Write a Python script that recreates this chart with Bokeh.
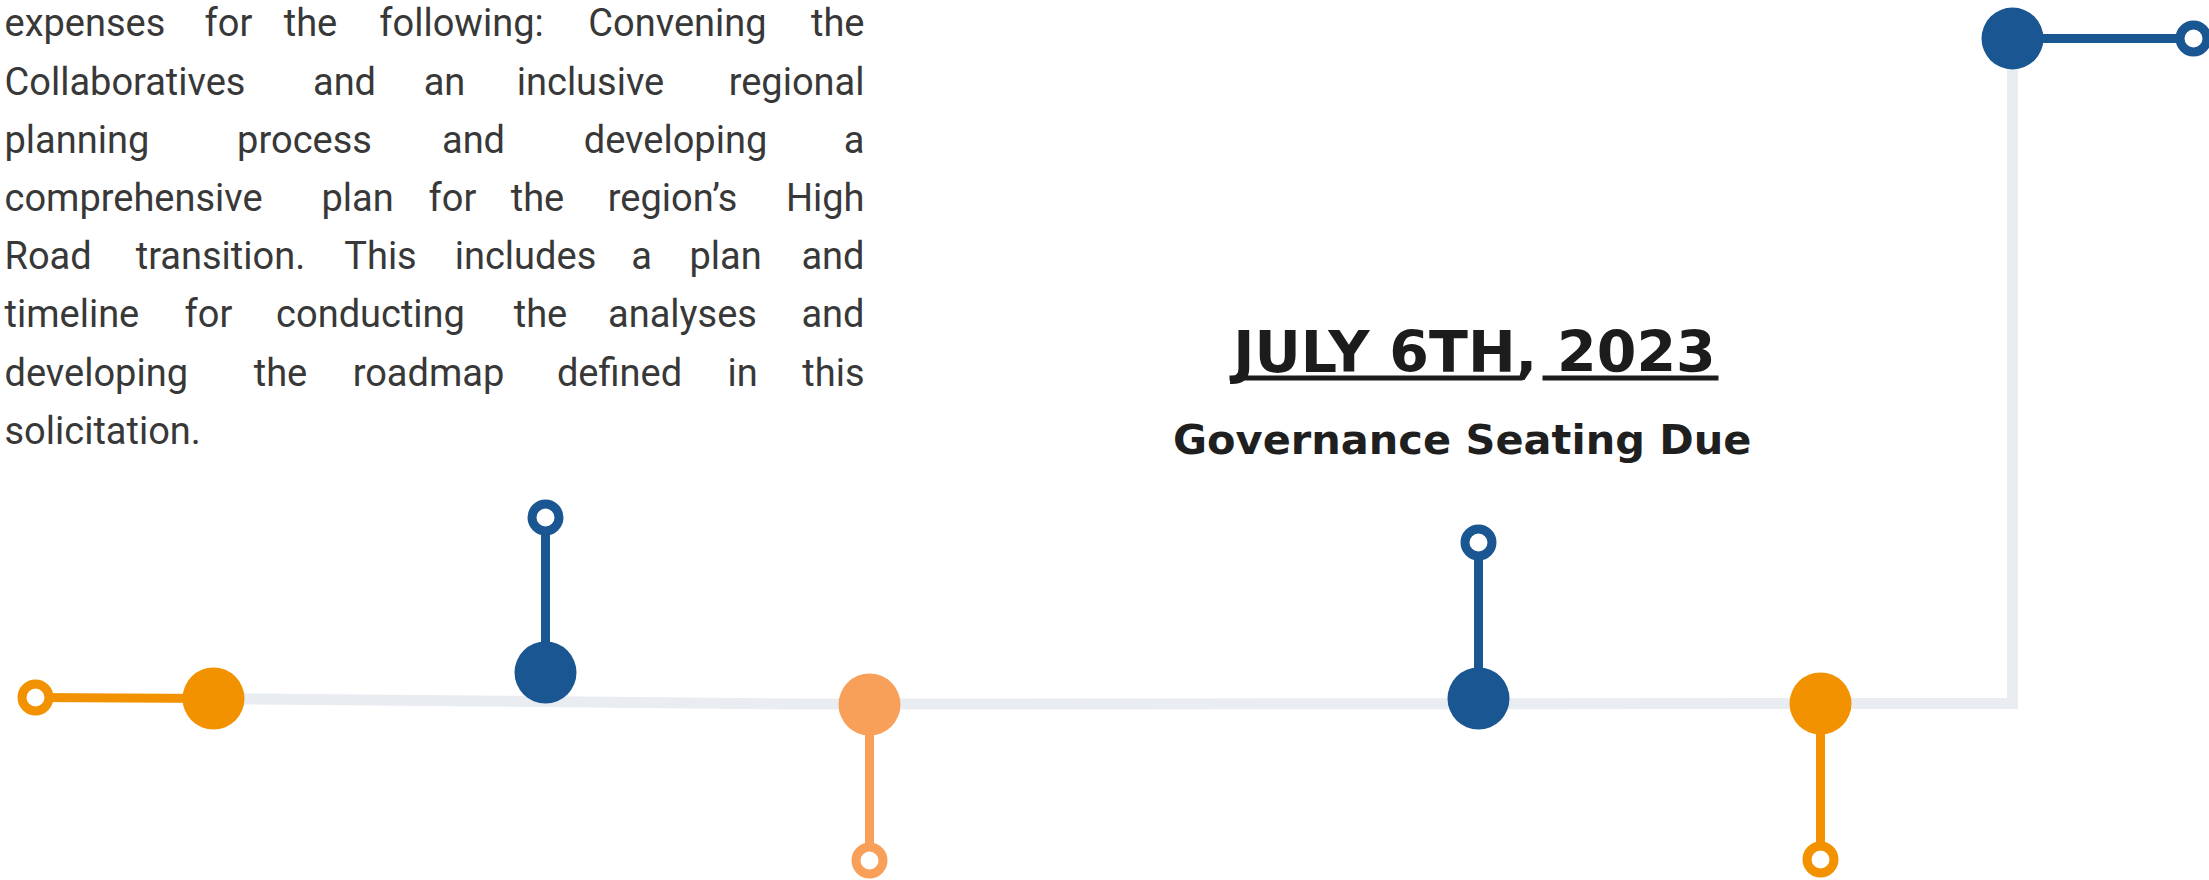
from bokeh.plotting import figure
from bokeh.models import Range1d, ColumnDataSource
from bokeh.core.properties import value
from bokeh.embed import file_html
from bokeh.resources import INLINE

# ---------------- data ----------------
ORANGE = "#F39200"
LIGHT_ORANGE = "#F8A05A"
BLUE = "#1A5792"
GRAY = "#E9EDF1"
TEXT = "#383838"

# timeline milestones: hub (filled dot) and end (ring) of each stem
hub_x = [213, 545, 869, 1478, 1820, 2012]
hub_y = [698, 672, 704, 698, 703, 38]
end_x = [35, 545, 869, 1478, 1820, 2193]
end_y = [697, 517, 860, 542, 859, 38]
milestone_colors = [ORANGE, BLUE, LIGHT_ORANGE, BLUE, ORANGE, BLUE]

# main gray path
path_x = [213, 800, 2012, 2012]
path_y = [698, 703.5, 703, 38]

# paragraph (justified, word by word)
para_lines = [
    ["expenses", "for", "the", "following:", "Convening", "the"],
    ["Collaboratives", "and", "an", "inclusive", "regional"],
    ["planning", "process", "and", "developing", "a"],
    ["comprehensive", "plan", "for", "the", "region\u2019s", "High"],
    ["Road", "transition.", "This", "includes", "a", "plan", "and"],
    ["timeline", "for", "conducting", "the", "analyses", "and"],
    ["developing", "the", "roadmap", "defined", "in", "this"],
    ["solicitation."],
]
# anchor x of each word (first word: left edge, last: right edge, others: centre)
para_pos = [
    [4, 228, 310, 461, 677, 864],
    [4, 344, 444, 590, 864],
    [4, 304, 473, 675, 864],
    [4, 357, 452, 537, 672, 864],
    [4, 220, 380, 525, 641, 725, 864],
    [4, 208, 370, 540, 682, 864],
    [4, 280, 428, 619, 742, 864],
    [4],
]
para_base = 35.5
para_step = 58.2
para_size = 38

date_text = "JULY 6TH, 2023"
date_x, date_base, date_size = 1474, 370, 57
date_underline = [(1229, 1522), (1542, 1718)]
date_underline_y = 377.5

sub_text = "Governance Seating  Due"
sub_x, sub_base, sub_size = 1469, 453, 41.5

BASE_SHIFT = 0.33  # renderer places alphabetic baseline ~0.33em low

# ---------------- figure ----------------
W, H = 2209, 880
p = figure(width=W, height=H, output_backend="svg", toolbar_location=None,
           x_range=Range1d(0, W), y_range=Range1d(H, 0),
           min_border=0, outline_line_color=None, background_fill_color="white",
           border_fill_color="white")
p.axis.visible = False
p.grid.visible = False

# gray path
p.line(path_x, path_y, line_color=GRAY, line_width=11, line_join="miter")

# stems
for hx, hy, ex, ey, c in zip(hub_x, hub_y, end_x, end_y, milestone_colors):
    p.line([hx, ex], [hy, ey], line_color=c, line_width=9)

# rings
p.scatter(end_x, end_y, size=27, fill_color="white", line_color=milestone_colors,
          line_width=9)
# hubs
p.scatter(hub_x, hub_y, size=62, fill_color=milestone_colors, line_color=None)

# paragraph
wx, wy, wt, wa = [], [], [], []
for i, (words, pos) in enumerate(zip(para_lines, para_pos)):
    n = len(words)
    for j, (w, x) in enumerate(zip(words, pos)):
        wt.append(w)
        wx.append(x)
        wy.append(para_base + i * para_step - BASE_SHIFT * para_size)
        if j == 0:
            wa.append("left")
        elif j == n - 1:
            wa.append("right")
        else:
            wa.append("center")
src = ColumnDataSource(dict(x=wx, y=wy, t=wt, a=wa))
p.text(x="x", y="y", text="t", text_align="a", source=src,
       text_font=value("Roboto"), text_font_size=f"{para_size}px", text_color=TEXT,
       text_baseline="alphabetic")

# date heading
p.text(x=[date_x], y=[date_base - BASE_SHIFT * date_size], text=[date_text],
       text_align="center", text_baseline="alphabetic",
       text_font=value("DejaVu Sans"), text_font_size=f"{date_size}px",
       text_font_style="bold", text_color="#1C1C1C")
for x0, x1 in date_underline:
    p.line([x0, x1], [date_underline_y, date_underline_y], line_color="#1C1C1C",
           line_width=5)

# subtitle
p.text(x=[sub_x], y=[sub_base - BASE_SHIFT * sub_size], text=[sub_text],
       text_align="center", text_baseline="alphabetic",
       text_font=value("DejaVu Sans"), text_font_size=f"{sub_size}px",
       text_font_style="bold", text_color="#1F1F1F")

open("out.html", "w").write(file_html(p, INLINE))
